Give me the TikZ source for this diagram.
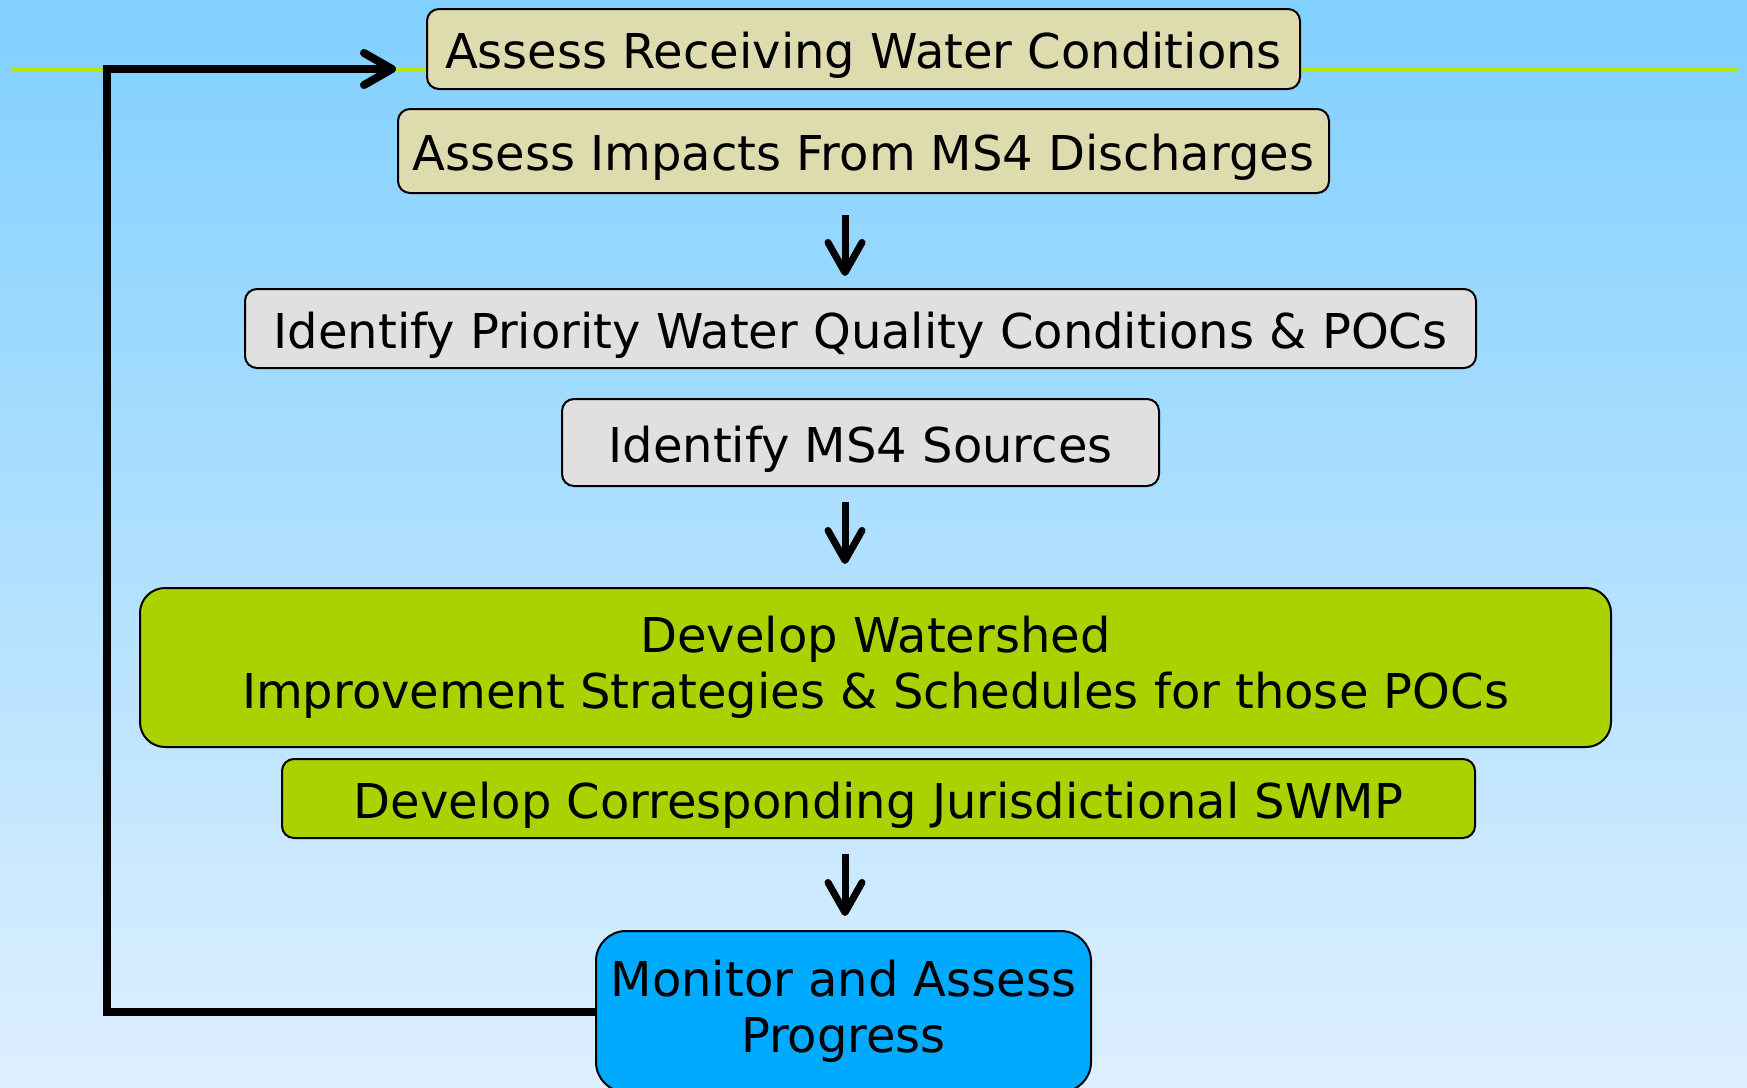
\documentclass[tikz,border=0pt]{standalone}
\usepackage{fontspec}
\setmainfont{DejaVu Sans}
\usetikzlibrary{arrows.meta}
\definecolor{bgtop}{RGB}{128,208,255}
\definecolor{bgbot}{RGB}{222,239,255}
\definecolor{tanfill}{RGB}{222,220,174}
\definecolor{grayfill}{RGB}{224,224,224}
\definecolor{greenfill}{RGB}{170,210,0}
\definecolor{bluefill}{RGB}{0,170,255}
\definecolor{rulegreen}{RGB}{184,230,0}
\begin{document}
\begin{tikzpicture}[x=1pt,y=-1pt,
  box/.style={draw=black, line width=2pt, rounded corners=12pt, inner sep=0pt, align=center,
    font=\fontsize{48}{56}\selectfont},
  oneline/.style={text height=40pt, text depth=1pt},
  downarr/.style={line width=7pt, -{Straight Barb[length=30pt, width=34pt, line cap=round, line join=round]}},
  fbarr/.style={line width=8pt, -{Straight Barb[length=28pt, width=32pt, line cap=round, line join=round]}}]
\shade[top color=bgtop, bottom color=bgbot] (0,0) rectangle (1747,1087);
\useasboundingbox (0,0) rectangle (1747,1087);
\begin{scope}
\clip (0,0) rectangle (1747,1087);
\draw[rulegreen, line width=3pt] (11,69) -- (1738,69);
\node[box, oneline, fill=tanfill, minimum width=873pt, minimum height=80pt] (n1) at (863.5,49) {Assess Receiving Water Conditions};
\node[box, oneline, fill=tanfill, minimum width=931pt, minimum height=84pt] (n2) at (863.5,151) {Assess Impacts From MS4 Discharges};
\node[box, oneline, fill=grayfill, minimum width=1231pt, minimum height=79pt] (n3) at (860.5,328.5) {Identify Priority Water Quality Conditions \& POCs};
\node[box, oneline, fill=grayfill, minimum width=597pt, minimum height=87pt] (n4) at (860.5,442.5) {Identify MS4 Sources};
\node[box, fill=greenfill, rounded corners=25pt, minimum width=1471pt, minimum height=159pt] (n5) at (875.5,667.5) {Develop Watershed\\Improvement Strategies \& Schedules for those POCs};
\node[box, oneline, fill=greenfill, minimum width=1193pt, minimum height=79pt] (n6) at (878.5,798.5) {Develop Corresponding Jurisdictional SWMP};
\node[box, fill=bluefill, rounded corners=30pt, minimum width=495pt, minimum height=161pt] (n7) at (843.5,1011.5) {Monitor and Assess\\Progress};
\coordinate (ax) at (845,0);
\draw[downarr, shorten <=21pt, shorten >=12pt] (n2.south -| ax) -- (n3.north -| ax);
\draw[downarr, shorten <=15pt, shorten >=23pt] (n4.south -| ax) -- (n5.north -| ax);
\draw[downarr, shorten <=15pt, shorten >=14pt] (n6.south -| ax) -- (n7.north -| ax);
\coordinate (corner) at (107,69);
\coordinate (tip) at (396,69);
\draw[fbarr, line join=miter] (n7.west) -| (corner) -- (tip);
\end{scope}
\end{tikzpicture}
\end{document}
